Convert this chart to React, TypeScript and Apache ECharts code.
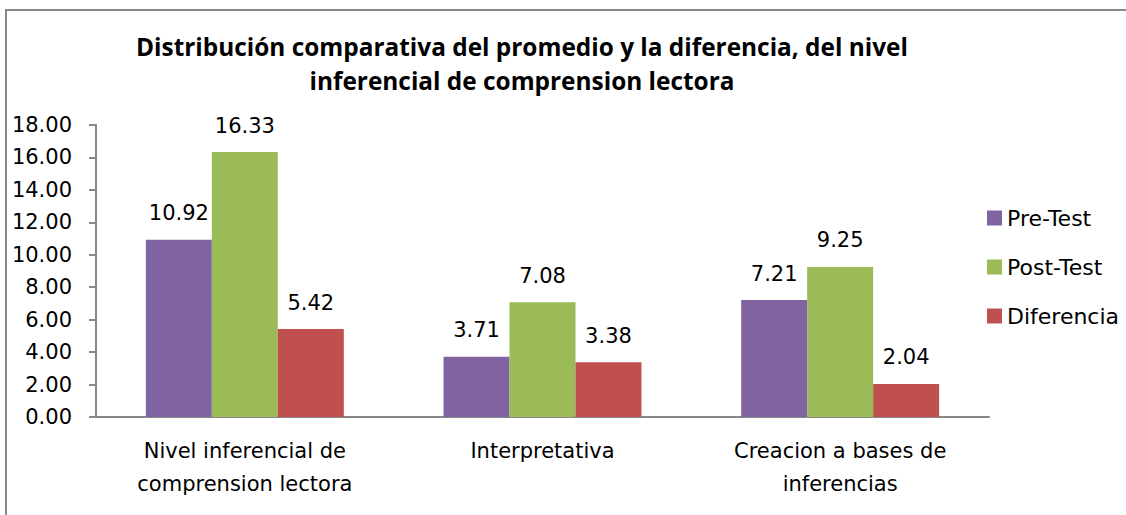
import React, { useEffect, useRef } from "react";
import * as echarts from "echarts";

const categories = [
  "Nivel inferencial de\ncomprension lectora",
  "Interpretativa",
  "Creacion a bases de\ninferencias",
];
const seriesNames = ["Pre-Test", "Post-Test", "Diferencia"];
const preTest = [10.92, 3.71, 7.21];
const postTest = [16.33, 7.08, 9.25];
const diferencia = [5.42, 3.38, 2.04];
const colors = ["#8064A2", "#9BBB59", "#C0504D"];
const titleLines = [
  "Distribución comparativa del promedio y la diferencia, del nivel",
  "inferencial de comprension lectora",
];

const FONT = "'DejaVu Sans', sans-serif";
const TFONT = "'Open Sans', sans-serif";

export default function App() {
  const ref = useRef<HTMLDivElement>(null);
  useEffect(() => {
    if (!ref.current) return;
    const chart = echarts.init(ref.current, null, { renderer: "svg" });
    const values = [preTest, postTest, diferencia];
    chart.setOption({
      animation: false,
      backgroundColor: "#ffffff",
      textStyle: { fontFamily: FONT },
      graphic: [
        {
          type: "rect",
          shape: { x: 6, y: 10, width: 1200, height: 600 },
          style: { fill: "none", stroke: "#888888", lineWidth: 2 },
          silent: true,
        },
        {
          type: "text",
          x: 522,
          y: 63,
          style: {
            text: titleLines.join("\n"),
            fontFamily: TFONT,
            fontWeight: "bold",
            fontSize: 24.4,
            lineHeight: 34,
            fill: "#000",
            align: "center",
            verticalAlign: "middle",
          },
        },
      ],
      legend: {
        orient: "vertical",
        left: 982,
        top: 202,
        itemWidth: 15,
        itemHeight: 15,
        itemGap: 27,
        icon: "rect",
        data: seriesNames,
        textStyle: { fontFamily: FONT, fontSize: 22, color: "#000", lineHeight: 22 },
      },
      grid: { left: 96, right: 137, top: 125, bottom: 98, containLabel: false },
      xAxis: {
        type: "category",
        data: categories,
        axisLine: { lineStyle: { color: "#888888", width: 2 } },
        axisTick: { length: 7, lineStyle: { color: "#888888", width: 2 } },
        axisLabel: {
          fontFamily: FONT,
          fontSize: 21,
          color: "#000",
          lineHeight: 33,
          margin: 17,
          interval: 0,
        },
      },
      yAxis: {
        type: "value",
        min: 0,
        max: 18,
        interval: 2,
        splitLine: { show: false },
        axisLine: { show: true, lineStyle: { color: "#888888", width: 2 } },
        axisTick: { show: true, length: 7, lineStyle: { color: "#888888", width: 2 } },
        axisLabel: {
          fontFamily: FONT,
          fontSize: 21,
          color: "#000",
          margin: 24,
          formatter: (v: number) => v.toFixed(2),
        },
      },
      series: seriesNames.map((name, i) => ({
        name,
        type: "bar",
        data: values[i],
        barGap: "0%",
        barCategoryGap: "33.5%",
        itemStyle: { color: colors[i] },
        label: {
          show: true,
          position: "top",
          distance: 16,
          fontFamily: FONT,
          fontSize: 21,
          color: "#000",
          formatter: (p: any) => Number(p.value).toFixed(2),
        },
      })),
    });
    return () => chart.dispose();
  }, []);
  return (
    <div
      ref={ref}
      style={{ position: "fixed", left: 0, top: 0, width: 1126, height: 515 }}
    />
  );
}
